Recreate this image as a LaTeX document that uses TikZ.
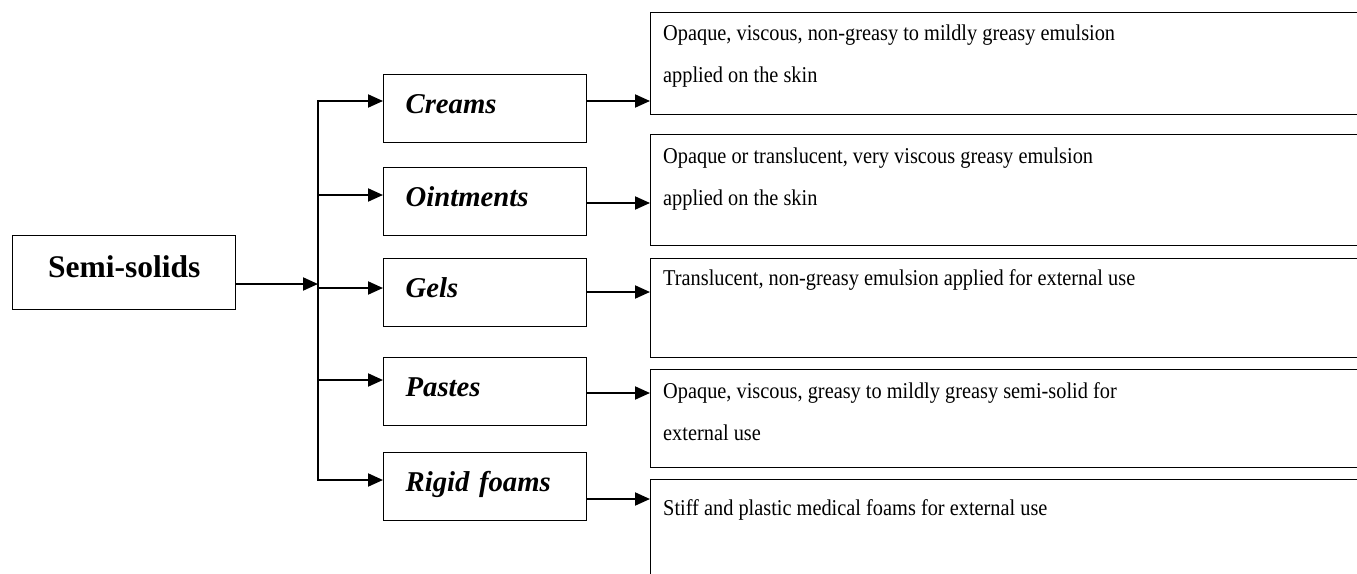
\documentclass[tikz,border=0pt]{standalone}
\usepackage{fontspec}
\setmainfont{Liberation Serif}
\newfontfamily\rfont[FakeStretch=0.9]{Liberation Serif}
\usetikzlibrary{arrows.meta}
\begin{document}
\begin{tikzpicture}[x=1pt,y=-1pt,
  box/.style={draw, line width=1.3pt, inner sep=0pt, anchor=north west},
  conn/.style={line width=2pt},
  arr/.style={conn, -{Triangle[length=15pt,width=13pt]}},
  midbox/.style={box, inner xsep=22pt, inner ysep=0pt, text width=159pt,
    text height=39pt, text depth=29pt, align=left,
    font=\fontsize{28.7}{34}\selectfont\bfseries\itshape},
  rbox/.style={box, minimum width=720pt},
  rtext/.style={anchor=base west, align=left, inner sep=0pt,
    font=\rfont\fontsize{22.6}{41.5}\selectfont}
]
\useasboundingbox (0,0) rectangle (1357,573);
\clip (0,0) rectangle (1357,573);

% root
\node[box, text width=223pt, align=center, text height=42pt, text depth=32pt,
  font=\fontsize{31.5}{36}\selectfont\bfseries] (s) at (12,235) {Semi-solids};

% middle boxes
\node[midbox] (m1) at (383,74)  {Creams};
\node[midbox] (m2) at (383,167) {Ointments};
\node[midbox] (m3) at (383,258) {Gels};
\node[midbox] (m4) at (383,357) {Pastes};
\node[midbox] (m5) at (383,452) {Rigid foams};

% right boxes
\node[rbox, minimum height=102pt] (r1) at (650,12)  {};
\node[rbox, minimum height=111pt] (r2) at (650,134) {};
\node[rbox, minimum height=99pt]  (r3) at (650,258) {};
\node[rbox, minimum height=98pt]  (r4) at (650,369) {};
\node[rbox, minimum height=130pt] (r5) at (650,479) {};

% texts (base anchor = baseline of the last line)
\node[rtext] (t1) at (663,82)  {Opaque, viscous, non-greasy to mildly greasy emulsion\\applied on the skin};
\node[rtext] (t2) at (663,205) {Opaque or translucent, very viscous greasy emulsion\\applied on the skin};
\node[rtext] (t3) at (663,285) {Translucent, non-greasy emulsion applied for external use};
\node[rtext] (t4) at (663,440) {Opaque, viscous, greasy to mildly greasy semi-solid for\\external use};
\node[rtext] (t5) at (663,515) {Stiff and plastic medical foams for external use};

% trunk coordinates
\coordinate (jtop) at (318,101);
\coordinate (j2) at (318,195);
\coordinate (j3) at (318,288);
\coordinate (j4) at (318,380);
\coordinate (jbot) at (318,480);
\coordinate (jin) at (318,284);

% output heights
\coordinate (o1) at (0,101);
\coordinate (o2) at (0,203);
\coordinate (o3) at (0,292);
\coordinate (o4) at (0,393);
\coordinate (o5) at (0,499);

\draw[arr] (s.east |- jin) -- (jin);
\draw[conn, {Triangle[length=15pt,width=13pt]}-{Triangle[length=15pt,width=13pt]}]
  (m1.west |- jtop) -- (jtop) -- (jbot) -- (m5.west |- jbot);
\draw[arr] (j2) -- (m2.west |- j2);
\draw[arr] (j3) -- (m3.west |- j3);
\draw[arr] (j4) -- (m4.west |- j4);

\draw[arr] (m1.east |- o1) -- (r1.west |- o1);
\draw[arr] (m2.east |- o2) -- (r2.west |- o2);
\draw[arr] (m3.east |- o3) -- (r3.west |- o3);
\draw[arr] (m4.east |- o4) -- (r4.west |- o4);
\draw[arr] (m5.east |- o5) -- (r5.west |- o5);
\end{tikzpicture}
\end{document}
